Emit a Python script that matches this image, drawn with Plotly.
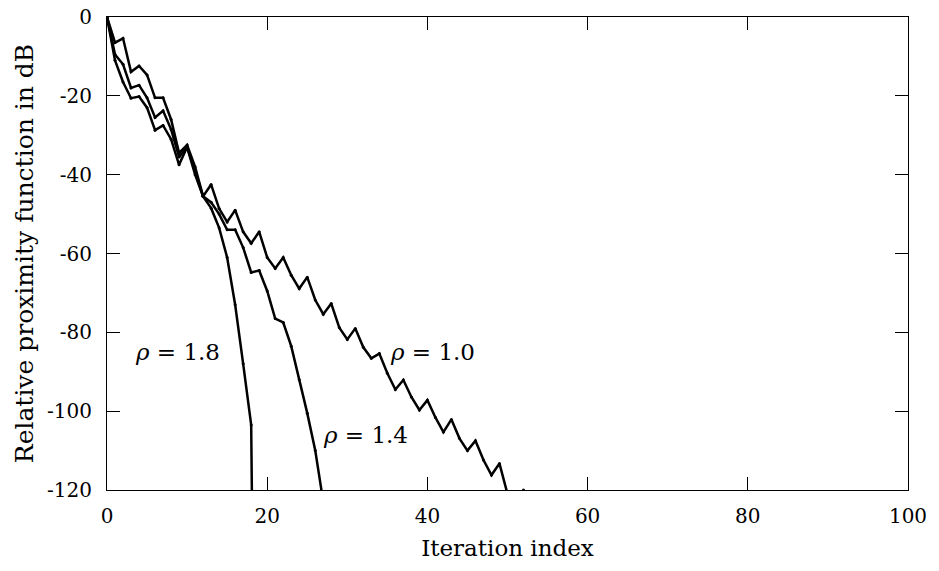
import plotly.graph_objects as go

# Iteration indices and relative proximity function (dB)
iter_10 = list(range(0, 53))
prox_10 = [0, -6.5, -5.4, -13.9, -12.4, -14.7, -20.5, -20.5, -26, -34.5,
           -32.5, -38, -45.5, -42.5, -48.6, -52, -49, -54.5, -57.4, -54.5,
           -61, -63.8, -61, -65.5, -68.9, -66, -71.8, -75.4, -72.7, -78.8,
           -81.8, -79, -83.8, -86.6, -85.4, -90.4, -94.5, -92.1, -96.4, -99.7,
           -97.2, -101.6, -105.3, -102.1, -106.9, -110, -107.5, -112.4, -116.2, -113.3,
           -121, -130, -120]

iter_14 = list(range(0, 28))
prox_14 = [0, -9.5, -12, -18, -17.3, -20.5, -25.5, -23.8, -28.5, -35.5,
           -33, -40, -45.5, -47, -50, -54, -54, -58.5, -64.8, -64.3,
           -69.5, -76.5, -77.5, -83.5, -92, -100.5, -110, -123]

iter_18 = list(range(0, 20))
prox_18 = [0, -11, -16.5, -20.6, -20.2, -23, -28.7, -27.5, -31, -37.5,
           -33, -39, -45.5, -48.5, -53.5, -61, -73, -88, -103.5, -300]

x_ticks = [0, 20, 40, 60, 80, 100]
y_ticks = [0, -20, -40, -60, -80, -100, -120]
y_tick_text = ["0", "-20", "-40", "-60", "-80", "-100", "-120"]

labels = ["<i>ρ</i> = 1.8", "<i>ρ</i> = 1.4", "<i>ρ</i> = 1.0"]
label_x = [8.8, 32.3, 40.6]
label_y = [-85, -106, -85]

FONT = "DejaVu Serif"

fig = go.Figure()
for xs, ys in [(iter_10, prox_10), (iter_14, prox_14), (iter_18, prox_18)]:
    fig.add_trace(go.Scatter(
        x=xs, y=ys, mode="lines+markers",
        line=dict(color="black", width=2.5),
        marker=dict(color="black", size=3),
        showlegend=False, cliponaxis=True,
    ))

for t, lx, ly in zip(labels, label_x, label_y):
    fig.add_annotation(x=lx, y=ly, text=t, showarrow=False,
                       font=dict(family=FONT, size=23, color="black"))

axis_common = dict(
    showline=True, linecolor="black", linewidth=1, mirror="ticks",
    ticks="inside", ticklen=13, tickcolor="black", tickwidth=1,
    showgrid=False, zeroline=False, automargin=False,
    tickfont=dict(family=FONT, size=20, color="black"),
)

fig.update_xaxes(range=[0, 100], tickvals=x_ticks,
                 title=dict(text="Iteration index", font=dict(family=FONT, size=23, color="black"), standoff=12),
                 ticklabelstandoff=8, **axis_common)
fig.update_yaxes(range=[-120, 0], tickvals=y_ticks, ticktext=y_tick_text,
                 title=dict(text="Relative proximity function in dB", font=dict(family=FONT, size=25, color="black"), standoff=6),
                 ticklabelstandoff=10, **axis_common)

fig.update_layout(
    width=939, height=571,
    margin=dict(l=107, r=31, t=17, b=81),
    paper_bgcolor="white", plot_bgcolor="white",
    font=dict(family=FONT, color="black"),
)

fig.write_html("out.html")
